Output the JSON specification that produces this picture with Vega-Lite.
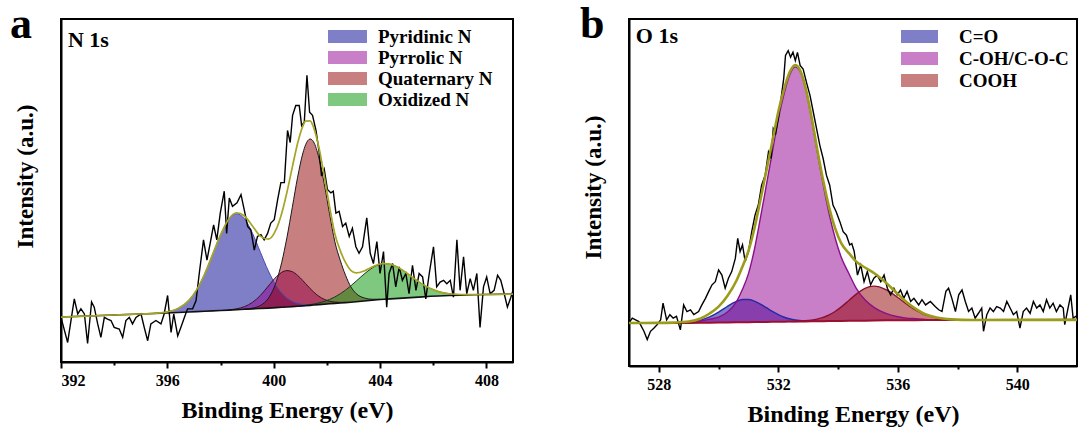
{
  "$schema": "https://vega.github.io/schema/vega-lite/v6.json",
  "background": "white",
  "padding": {"left": 9, "top": 2, "right": 0, "bottom": 0},
  "spacing": 61,
  "resolve": {"scale": {"fill": "independent", "stroke": "independent", "x": "independent", "y": "independent"}, "legend": {"fill": "independent"}},
  "config": {
    "font": "Liberation Serif",
    "view": {"stroke": "black", "strokeWidth": 2},
    "axis": {"domainColor": "black", "domainWidth": 2, "tickColor": "black", "tickWidth": 2, "labelFont": "Liberation Serif", "labelFontSize": 16, "labelFontWeight": "bold", "labelColor": "black", "titleFont": "Liberation Serif", "titleFontWeight": "bold", "titleColor": "black", "grid": false, "labelOverlap": false},
    "axisX": {"labelPadding": 4, "titlePadding": 10, "titleFontSize": 24},
    "axisY": {"ticks": false, "labels": false, "titlePadding": 24, "titleFontSize": 23},
    "legend": {"orient": "none", "labelFont": "Liberation Serif", "labelFontSize": 19, "labelFontWeight": "bold", "labelColor": "black", "symbolStrokeWidth": 0, "rowPadding": 0, "padding": 0, "symbolOpacity": 0.5, "labelLimit": 300},
    "title": {"anchor": "start", "frame": "group", "offset": 0, "baseline": "alphabetic", "font": "Liberation Serif", "fontSize": 44, "fontWeight": "bold", "color": "black", "dy": 32}
  },
  "datasets": {
    "rawA": [
      {"x":392.00,"y":13.0},{"x":392.10,"y":10.1},{"x":392.25,"y":5.7},{"x":392.50,"y":18.4},{"x":392.63,"y":14.0},{"x":392.75,"y":15.5},{"x":392.88,"y":14.0},{"x":393.00,"y":5.4},{"x":393.15,"y":17.5},{"x":393.25,"y":16.0},{"x":393.38,"y":11.1},{"x":393.50,"y":7.2},{"x":393.63,"y":13.0},{"x":393.75,"y":12.5},{"x":393.88,"y":12.1},{"x":394.00,"y":10.1},{"x":394.19,"y":9.6},{"x":394.32,"y":7.2},{"x":394.44,"y":12.1},{"x":394.57,"y":13.0},{"x":394.69,"y":11.1},{"x":394.82,"y":13.0},{"x":395.01,"y":14.0},{"x":395.13,"y":10.1},{"x":395.26,"y":6.2},{"x":395.38,"y":11.1},{"x":395.57,"y":12.1},{"x":395.76,"y":11.1},{"x":395.88,"y":14.0},{"x":396.01,"y":19.4},{"x":396.14,"y":8.6},{"x":396.24,"y":14.0},{"x":396.39,"y":7.6},{"x":396.51,"y":10.1},{"x":396.64,"y":13.0},{"x":396.76,"y":15.5},{"x":396.95,"y":15.5},{"x":397.08,"y":17.9},{"x":397.20,"y":25.8},{"x":397.36,"y":35.6},{"x":397.49,"y":29.7},{"x":397.61,"y":34.6},{"x":397.74,"y":40.0},{"x":397.86,"y":35.6},{"x":397.99,"y":43.4},{"x":398.14,"y":49.8},{"x":398.23,"y":37.5},{"x":398.33,"y":47.8},{"x":398.45,"y":45.4},{"x":398.62,"y":46.4},{"x":398.77,"y":48.8},{"x":398.89,"y":44.4},{"x":399.02,"y":39.5},{"x":399.14,"y":38.5},{"x":399.27,"y":32.6},{"x":399.39,"y":36.6},{"x":399.52,"y":37.1},{"x":399.64,"y":35.6},{"x":399.77,"y":37.5},{"x":399.89,"y":40.5},{"x":400.02,"y":41.5},{"x":400.15,"y":47.4},{"x":400.27,"y":52.3},{"x":400.40,"y":52.3},{"x":400.52,"y":67.5},{"x":400.62,"y":64.0},{"x":400.71,"y":71.9},{"x":400.83,"y":74.8},{"x":400.96,"y":74.8},{"x":401.05,"y":68.9},{"x":401.15,"y":69.9},{"x":401.25,"y":83.6},{"x":401.35,"y":72.8},{"x":401.46,"y":71.9},{"x":401.59,"y":67.5},{"x":401.71,"y":61.1},{"x":401.80,"y":54.2},{"x":401.90,"y":56.2},{"x":402.02,"y":50.3},{"x":402.15,"y":49.3},{"x":402.24,"y":49.8},{"x":402.34,"y":43.4},{"x":402.46,"y":43.9},{"x":402.59,"y":39.5},{"x":402.71,"y":40.5},{"x":402.84,"y":36.6},{"x":402.96,"y":39.0},{"x":403.09,"y":33.6},{"x":403.21,"y":31.7},{"x":403.34,"y":33.6},{"x":403.50,"y":42.0},{"x":403.63,"y":31.7},{"x":403.75,"y":28.7},{"x":403.88,"y":35.1},{"x":404.00,"y":25.8},{"x":404.13,"y":32.2},{"x":404.25,"y":16.0},{"x":404.34,"y":25.8},{"x":404.47,"y":28.7},{"x":404.59,"y":21.9},{"x":404.72,"y":27.7},{"x":404.84,"y":23.8},{"x":404.97,"y":25.8},{"x":405.09,"y":19.9},{"x":405.22,"y":28.2},{"x":405.35,"y":20.9},{"x":405.47,"y":25.8},{"x":405.60,"y":24.8},{"x":405.72,"y":18.4},{"x":405.85,"y":25.8},{"x":406.01,"y":33.6},{"x":406.13,"y":21.9},{"x":406.26,"y":23.3},{"x":406.39,"y":23.8},{"x":406.51,"y":22.8},{"x":406.64,"y":23.8},{"x":406.76,"y":18.9},{"x":406.89,"y":35.6},{"x":407.01,"y":20.9},{"x":407.14,"y":30.7},{"x":407.26,"y":19.9},{"x":407.39,"y":24.3},{"x":407.51,"y":20.9},{"x":407.64,"y":25.8},{"x":407.76,"y":10.1},{"x":407.89,"y":21.9},{"x":408.01,"y":24.8},{"x":408.14,"y":19.9},{"x":408.29,"y":20.9},{"x":408.42,"y":25.3},{"x":408.54,"y":23.8},{"x":408.67,"y":19.9},{"x":408.79,"y":16.0},{"x":408.92,"y":18.9},{"x":409.00,"y":20.9}
    ],
    "fitA": [
      {"x":392,"base":13.1,"env":13.1},{"x":393,"base":13.4,"env":13.4},{"x":394,"base":13.7,"env":13.7},{"x":395,"base":14.0,"env":14.0},{"x":395.5,"base":14.15,"env":14.2},{"x":396,"base":14.3,"env":14.62},{"x":396.4,"base":14.44,"env":15.59},{"x":396.8,"base":14.58,"env":17.88},{"x":397.1,"base":14.69,"env":21.03},{"x":397.4,"base":14.79,"env":25.59},{"x":397.7,"base":14.9,"env":31.3},{"x":398.0,"base":15.0,"env":37.08},{"x":398.3,"base":15.12,"env":41.58},{"x":398.6,"base":15.24,"env":43.52},{"x":398.9,"base":15.36,"env":42.56},{"x":399.2,"base":15.48,"env":39.67},{"x":399.5,"base":15.6,"env":36.7},{"x":399.8,"base":15.72,"env":35.81},{"x":400.1,"base":15.85,"env":38.81},{"x":400.3,"base":15.95,"env":43.31},{"x":400.5,"base":16.05,"env":49.57},{"x":400.7,"base":16.15,"env":56.82},{"x":400.9,"base":16.25,"env":63.79},{"x":401.1,"base":16.36,"env":68.85},{"x":401.2,"base":16.42,"env":70.22},{"x":401.37,"base":16.52,"env":70.32},{"x":401.5,"base":16.6,"env":68.41},{"x":401.7,"base":16.72,"env":62.53},{"x":401.9,"base":16.84,"env":54.23},{"x":402.1,"base":16.96,"env":45.32},{"x":402.3,"base":17.08,"env":37.32},{"x":402.5,"base":17.2,"env":32.55},{"x":402.7,"base":17.32,"env":29.02},{"x":402.9,"base":17.44,"env":26.7},{"x":403.1,"base":17.57,"env":25.96},{"x":403.4,"base":17.78,"env":26.53},{"x":403.7,"base":17.99,"env":27.69},{"x":404.0,"base":18.2,"env":28.58},{"x":404.15,"base":18.28,"env":28.68},{"x":404.4,"base":18.4,"env":28.48},{"x":404.7,"base":18.55,"env":27.49},{"x":405.0,"base":18.7,"env":25.95},{"x":405.3,"base":18.85,"env":24.22},{"x":405.6,"base":19.0,"env":22.63},{"x":405.9,"base":19.15,"env":21.4},{"x":406.2,"base":19.26,"env":20.53},{"x":406.6,"base":19.38,"env":19.9},{"x":407.0,"base":19.5,"env":19.68},{"x":407.5,"base":19.6,"env":19.64},{"x":408,"base":19.7,"env":19.7},{"x":409,"base":19.8,"env":19.8}
    ],
    "compA": [
      {"s":"Pyridinic N","x":395.5,"top":14.2,"base":14.15},{"s":"Pyridinic N","x":396,"top":14.62,"base":14.3},{"s":"Pyridinic N","x":396.4,"top":15.59,"base":14.44},{"s":"Pyridinic N","x":396.8,"top":17.88,"base":14.58},{"s":"Pyridinic N","x":397.1,"top":21.03,"base":14.69},{"s":"Pyridinic N","x":397.4,"top":25.59,"base":14.79},{"s":"Pyridinic N","x":397.7,"top":31.3,"base":14.9},{"s":"Pyridinic N","x":398.0,"top":37.08,"base":15.0},{"s":"Pyridinic N","x":398.3,"top":41.5,"base":15.12},{"s":"Pyridinic N","x":398.6,"top":43.24,"base":15.24},{"s":"Pyridinic N","x":398.9,"top":41.74,"base":15.36},{"s":"Pyridinic N","x":399.2,"top":37.56,"base":15.48},{"s":"Pyridinic N","x":399.5,"top":32.0,"base":15.6},{"s":"Pyridinic N","x":399.8,"top":26.52,"base":15.72},{"s":"Pyridinic N","x":400.1,"top":22.19,"base":15.85},{"s":"Pyridinic N","x":400.3,"top":20.1,"base":15.95},{"s":"Pyridinic N","x":400.5,"top":18.63,"base":16.05},{"s":"Pyridinic N","x":400.7,"top":17.67,"base":16.15},{"s":"Pyridinic N","x":400.9,"top":17.1,"base":16.25},{"s":"Pyridinic N","x":401.1,"top":16.81,"base":16.36},{"s":"Pyridinic N","x":401.37,"top":16.7,"base":16.52},{"s":"Pyridinic N","x":401.7,"top":16.77,"base":16.72},
      {"s":"Pyrrolic N","x":398.3,"top":15.2,"base":15.12},{"s":"Pyrrolic N","x":398.6,"top":15.51,"base":15.24},{"s":"Pyrrolic N","x":398.9,"top":16.14,"base":15.36},{"s":"Pyrrolic N","x":399.2,"top":17.37,"base":15.48},{"s":"Pyrrolic N","x":399.5,"top":19.42,"base":15.6},{"s":"Pyrrolic N","x":399.8,"top":22.15,"base":15.72},{"s":"Pyrrolic N","x":400.1,"top":24.85,"base":15.85},{"s":"Pyrrolic N","x":400.3,"top":26.13,"base":15.95},{"s":"Pyrrolic N","x":400.5,"top":26.65,"base":16.05},{"s":"Pyrrolic N","x":400.7,"top":26.33,"base":16.15},{"s":"Pyrrolic N","x":400.9,"top":25.25,"base":16.25},{"s":"Pyrrolic N","x":401.1,"top":23.7,"base":16.36},{"s":"Pyrrolic N","x":401.2,"top":22.85,"base":16.42},{"s":"Pyrrolic N","x":401.37,"top":21.42,"base":16.52},{"s":"Pyrrolic N","x":401.5,"top":20.42,"base":16.6},{"s":"Pyrrolic N","x":401.7,"top":19.16,"base":16.72},{"s":"Pyrrolic N","x":401.9,"top":18.27,"base":16.84},{"s":"Pyrrolic N","x":402.1,"top":17.74,"base":16.96},{"s":"Pyrrolic N","x":402.3,"top":17.47,"base":17.08},{"s":"Pyrrolic N","x":402.5,"top":17.38,"base":17.2},{"s":"Pyrrolic N","x":402.7,"top":17.39,"base":17.32},
      {"s":"Quaternary N","x":398.9,"top":15.4,"base":15.36},{"s":"Quaternary N","x":399.2,"top":15.7,"base":15.48},{"s":"Quaternary N","x":399.5,"top":16.48,"base":15.6},{"s":"Quaternary N","x":399.8,"top":18.58,"base":15.72},{"s":"Quaternary N","x":400.1,"top":23.47,"base":15.85},{"s":"Quaternary N","x":400.3,"top":28.98,"base":15.95},{"s":"Quaternary N","x":400.5,"top":36.39,"base":16.05},{"s":"Quaternary N","x":400.7,"top":45.12,"base":16.15},{"s":"Quaternary N","x":400.9,"top":53.89,"base":16.25},{"s":"Quaternary N","x":401.1,"top":60.96,"base":16.36},{"s":"Quaternary N","x":401.2,"top":63.34,"base":16.42},{"s":"Quaternary N","x":401.37,"top":65.02,"base":16.52},{"s":"Quaternary N","x":401.5,"top":64.17,"base":16.6},{"s":"Quaternary N","x":401.7,"top":59.52,"base":16.72},{"s":"Quaternary N","x":401.9,"top":51.97,"base":16.84},{"s":"Quaternary N","x":402.1,"top":43.27,"base":16.96},{"s":"Quaternary N","x":402.3,"top":35.05,"base":17.08},{"s":"Quaternary N","x":402.5,"top":29.7,"base":17.2},{"s":"Quaternary N","x":402.7,"top":25.32,"base":17.32},{"s":"Quaternary N","x":402.9,"top":21.94,"base":17.44},{"s":"Quaternary N","x":403.1,"top":19.97,"base":17.57},{"s":"Quaternary N","x":403.4,"top":18.68,"base":17.78},{"s":"Quaternary N","x":403.7,"top":18.29,"base":17.99},{"s":"Quaternary N","x":404.0,"top":18.3,"base":18.2},
      {"s":"Oxidized N","x":401.1,"top":16.46,"base":16.36},{"s":"Oxidized N","x":401.5,"top":16.91,"base":16.6},{"s":"Oxidized N","x":401.9,"top":17.67,"base":16.84},{"s":"Oxidized N","x":402.3,"top":18.96,"base":17.08},{"s":"Oxidized N","x":402.7,"top":20.95,"base":17.32},{"s":"Oxidized N","x":403.1,"top":23.56,"base":17.57},{"s":"Oxidized N","x":403.4,"top":25.63,"base":17.78},{"s":"Oxidized N","x":403.7,"top":27.39,"base":17.99},{"s":"Oxidized N","x":404.0,"top":28.48,"base":18.2},{"s":"Oxidized N","x":404.15,"top":28.68,"base":18.28},{"s":"Oxidized N","x":404.4,"top":28.48,"base":18.4},{"s":"Oxidized N","x":404.7,"top":27.49,"base":18.55},{"s":"Oxidized N","x":405.0,"top":25.95,"base":18.7},{"s":"Oxidized N","x":405.3,"top":24.22,"base":18.85},{"s":"Oxidized N","x":405.6,"top":22.63,"base":19.0},{"s":"Oxidized N","x":405.9,"top":21.4,"base":19.15},{"s":"Oxidized N","x":406.2,"top":20.53,"base":19.26},{"s":"Oxidized N","x":406.6,"top":19.9,"base":19.38},{"s":"Oxidized N","x":407.0,"top":19.68,"base":19.5},{"s":"Oxidized N","x":407.5,"top":19.64,"base":19.6}
    ],
    "rawB": [
      {"x":527.00,"y":12.4},{"x":527.11,"y":13.8},{"x":527.22,"y":13.3},{"x":527.33,"y":12.8},{"x":527.50,"y":10.0},{"x":527.61,"y":7.6},{"x":527.72,"y":10.0},{"x":527.83,"y":10.9},{"x":527.94,"y":11.9},{"x":528.06,"y":13.3},{"x":528.14,"y":18.1},{"x":528.26,"y":13.3},{"x":528.37,"y":14.8},{"x":528.48,"y":13.8},{"x":528.59,"y":14.3},{"x":528.72,"y":10.4},{"x":528.83,"y":17.6},{"x":528.94,"y":15.7},{"x":529.06,"y":16.2},{"x":529.17,"y":14.8},{"x":529.33,"y":15.7},{"x":529.44,"y":17.6},{"x":529.56,"y":19.5},{"x":529.67,"y":21.5},{"x":529.78,"y":23.4},{"x":529.89,"y":24.3},{"x":530.00,"y":27.7},{"x":530.11,"y":26.2},{"x":530.22,"y":22.4},{"x":530.33,"y":25.3},{"x":530.44,"y":27.2},{"x":530.56,"y":31.0},{"x":530.64,"y":36.8},{"x":530.72,"y":33.0},{"x":530.80,"y":34.9},{"x":530.89,"y":30.1},{"x":531.00,"y":33.0},{"x":531.11,"y":38.7},{"x":531.22,"y":43.5},{"x":531.33,"y":46.4},{"x":531.44,"y":52.1},{"x":531.56,"y":55.0},{"x":531.67,"y":61.7},{"x":531.76,"y":59.8},{"x":531.83,"y":68.4},{"x":531.91,"y":67.0},{"x":532.00,"y":71.3},{"x":532.09,"y":77.0},{"x":532.18,"y":82.8},{"x":532.24,"y":89.5},{"x":532.33,"y":90.9},{"x":532.41,"y":89.0},{"x":532.49,"y":90.4},{"x":532.57,"y":88.0},{"x":532.64,"y":90.4},{"x":532.73,"y":86.6},{"x":532.83,"y":85.6},{"x":532.94,"y":81.8},{"x":533.06,"y":78.0},{"x":533.17,"y":73.2},{"x":533.28,"y":68.4},{"x":533.39,"y":63.6},{"x":533.50,"y":59.8},{"x":533.61,"y":55.0},{"x":533.72,"y":52.1},{"x":533.83,"y":46.4},{"x":533.94,"y":44.4},{"x":534.06,"y":41.6},{"x":534.17,"y":38.7},{"x":534.28,"y":37.7},{"x":534.39,"y":34.9},{"x":534.46,"y":35.3},{"x":534.54,"y":33.0},{"x":534.65,"y":26.2},{"x":534.76,"y":29.1},{"x":534.87,"y":24.3},{"x":534.98,"y":27.2},{"x":535.09,"y":23.4},{"x":535.20,"y":25.3},{"x":535.31,"y":26.2},{"x":535.43,"y":24.3},{"x":535.54,"y":26.2},{"x":535.65,"y":22.4},{"x":535.76,"y":20.5},{"x":535.87,"y":22.4},{"x":535.98,"y":20.5},{"x":536.09,"y":21.9},{"x":536.20,"y":19.5},{"x":536.31,"y":21.5},{"x":536.43,"y":18.6},{"x":536.54,"y":19.5},{"x":536.70,"y":17.6},{"x":536.81,"y":19.1},{"x":536.93,"y":17.6},{"x":537.09,"y":18.6},{"x":537.26,"y":17.1},{"x":537.37,"y":16.2},{"x":537.48,"y":15.7},{"x":537.61,"y":21.5},{"x":537.70,"y":22.4},{"x":537.81,"y":19.5},{"x":537.93,"y":15.7},{"x":538.04,"y":20.5},{"x":538.15,"y":21.9},{"x":538.26,"y":18.6},{"x":538.37,"y":15.7},{"x":538.48,"y":16.7},{"x":538.59,"y":13.8},{"x":538.70,"y":15.2},{"x":538.81,"y":16.7},{"x":538.87,"y":10.0},{"x":538.98,"y":14.8},{"x":539.09,"y":16.7},{"x":539.20,"y":15.7},{"x":539.31,"y":17.1},{"x":539.43,"y":16.7},{"x":539.54,"y":15.7},{"x":539.65,"y":18.6},{"x":539.76,"y":16.7},{"x":539.87,"y":14.8},{"x":539.98,"y":15.7},{"x":540.09,"y":10.9},{"x":540.20,"y":15.7},{"x":540.31,"y":16.7},{"x":540.43,"y":15.2},{"x":540.54,"y":18.6},{"x":540.65,"y":16.7},{"x":540.76,"y":17.6},{"x":540.87,"y":15.7},{"x":540.98,"y":19.1},{"x":541.09,"y":16.7},{"x":541.20,"y":18.1},{"x":541.31,"y":15.7},{"x":541.43,"y":17.6},{"x":541.54,"y":16.7},{"x":541.59,"y":11.9},{"x":541.70,"y":16.7},{"x":541.79,"y":20.5},{"x":541.87,"y":13.8},{"x":542.00,"y":14.5}
    ],
    "fitB": [
      {"x":527,"base":12.4,"env":12.4},{"x":528,"base":12.4,"env":12.42},{"x":528.5,"base":12.4,"env":12.51},{"x":529.0,"base":12.4,"env":12.8},{"x":529.4,"base":12.45,"env":13.7},{"x":529.7,"base":12.48,"env":15.13},{"x":530.0,"base":12.51,"env":17.11},{"x":530.3,"base":12.55,"env":20.22},{"x":530.6,"base":12.58,"env":24.63},{"x":530.8,"base":12.61,"env":28.65},{"x":531.0,"base":12.63,"env":33.17},{"x":531.2,"base":12.65,"env":39.7},{"x":531.4,"base":12.67,"env":47.86},{"x":531.6,"base":12.69,"env":56.3},{"x":531.8,"base":12.72,"env":64.72},{"x":532.0,"base":12.74,"env":73.29},{"x":532.2,"base":12.76,"env":80.05},{"x":532.4,"base":12.79,"env":85.04},{"x":532.56,"base":12.81,"env":86.72},{"x":532.7,"base":12.82,"env":85.69},{"x":532.9,"base":12.85,"env":80.66},{"x":533.1,"base":12.87,"env":72.27},{"x":533.3,"base":12.89,"env":62.54},{"x":533.5,"base":12.91,"env":53.5},{"x":533.7,"base":12.94,"env":45.73},{"x":533.9,"base":12.96,"env":39.71},{"x":534.1,"base":12.98,"env":35.46},{"x":534.37,"base":13.01,"env":32.44},{"x":534.6,"base":13.04,"env":30.15},{"x":534.9,"base":13.07,"env":28.38},{"x":535.2,"base":13.11,"env":26.81},{"x":535.6,"base":13.15,"env":24.03},{"x":536.0,"base":13.2,"env":20.74},{"x":536.3,"base":13.21,"env":18.38},{"x":536.6,"base":13.22,"env":16.47},{"x":536.9,"base":13.23,"env":15.02},{"x":537.3,"base":13.24,"env":13.96},{"x":537.8,"base":13.25,"env":13.44},{"x":538.5,"base":13.26,"env":13.26},{"x":540,"base":13.28,"env":13.28},{"x":542,"base":13.3,"env":13.3}
    ],
    "compB": [
      {"s":"C=O","x":528.5,"top":12.43,"base":12.4},{"s":"C=O","x":529.0,"top":12.6,"base":12.4},{"s":"C=O","x":529.4,"top":13.2,"base":12.45},{"s":"C=O","x":529.7,"top":14.13,"base":12.48},{"s":"C=O","x":530.0,"top":15.51,"base":12.51},{"s":"C=O","x":530.3,"top":17.22,"base":12.55},{"s":"C=O","x":530.6,"top":18.63,"base":12.58},{"s":"C=O","x":530.8,"top":19.15,"base":12.61},{"s":"C=O","x":531.0,"top":19.17,"base":12.63},{"s":"C=O","x":531.2,"top":18.7,"base":12.65},{"s":"C=O","x":531.4,"top":17.86,"base":12.67},{"s":"C=O","x":531.6,"top":16.8,"base":12.69},{"s":"C=O","x":531.8,"top":15.72,"base":12.72},{"s":"C=O","x":532.0,"top":14.79,"base":12.74},{"s":"C=O","x":532.2,"top":14.05,"base":12.76},{"s":"C=O","x":532.4,"top":13.54,"base":12.79},{"s":"C=O","x":532.56,"top":13.27,"base":12.81},{"s":"C=O","x":532.7,"top":13.11,"base":12.82},{"s":"C=O","x":532.9,"top":12.99,"base":12.85},{"s":"C=O","x":533.1,"top":12.93,"base":12.87},{"s":"C=O","x":533.3,"top":12.91,"base":12.89},
      {"s":"C-OH/C-O-C","x":528.5,"top":12.48,"base":12.4},{"s":"C-OH/C-O-C","x":529.0,"top":12.6,"base":12.4},{"s":"C-OH/C-O-C","x":529.4,"top":12.95,"base":12.45},{"s":"C-OH/C-O-C","x":529.7,"top":13.48,"base":12.48},{"s":"C-OH/C-O-C","x":530.0,"top":14.11,"base":12.51},{"s":"C-OH/C-O-C","x":530.3,"top":15.55,"base":12.55},{"s":"C-OH/C-O-C","x":530.6,"top":18.58,"base":12.58},{"s":"C-OH/C-O-C","x":530.8,"top":22.11,"base":12.61},{"s":"C-OH/C-O-C","x":531.0,"top":26.63,"base":12.63},{"s":"C-OH/C-O-C","x":531.2,"top":33.65,"base":12.65},{"s":"C-OH/C-O-C","x":531.4,"top":42.67,"base":12.67},{"s":"C-OH/C-O-C","x":531.6,"top":52.19,"base":12.69},{"s":"C-OH/C-O-C","x":531.8,"top":61.72,"base":12.72},{"s":"C-OH/C-O-C","x":532.0,"top":71.24,"base":12.74},{"s":"C-OH/C-O-C","x":532.2,"top":78.76,"base":12.76},{"s":"C-OH/C-O-C","x":532.4,"top":84.29,"base":12.79},{"s":"C-OH/C-O-C","x":532.56,"top":86.21,"base":12.81},{"s":"C-OH/C-O-C","x":532.7,"top":85.32,"base":12.82},{"s":"C-OH/C-O-C","x":532.9,"top":80.35,"base":12.85},{"s":"C-OH/C-O-C","x":533.1,"top":71.87,"base":12.87},{"s":"C-OH/C-O-C","x":533.3,"top":61.89,"base":12.89},{"s":"C-OH/C-O-C","x":533.5,"top":52.41,"base":12.91},{"s":"C-OH/C-O-C","x":533.7,"top":43.94,"base":12.94},{"s":"C-OH/C-O-C","x":533.9,"top":36.96,"base":12.96},{"s":"C-OH/C-O-C","x":534.1,"top":31.48,"base":12.98},{"s":"C-OH/C-O-C","x":534.37,"top":26.51,"base":13.01},{"s":"C-OH/C-O-C","x":534.6,"top":22.54,"base":13.04},{"s":"C-OH/C-O-C","x":534.9,"top":19.07,"base":13.07},{"s":"C-OH/C-O-C","x":535.2,"top":16.91,"base":13.11},{"s":"C-OH/C-O-C","x":535.6,"top":15.15,"base":13.15},{"s":"C-OH/C-O-C","x":536.0,"top":14.2,"base":13.2},{"s":"C-OH/C-O-C","x":536.3,"top":13.81,"base":13.21},{"s":"C-OH/C-O-C","x":536.6,"top":13.62,"base":13.22},{"s":"C-OH/C-O-C","x":536.9,"top":13.43,"base":13.23},{"s":"C-OH/C-O-C","x":537.3,"top":13.34,"base":13.24},{"s":"C-OH/C-O-C","x":537.8,"top":13.3,"base":13.25},{"s":"C-OH/C-O-C","x":538.5,"top":13.26,"base":13.26},
      {"s":"COOH","x":532.4,"top":12.79,"base":12.79},{"s":"COOH","x":532.7,"top":12.9,"base":12.82},{"s":"COOH","x":532.9,"top":13.02,"base":12.85},{"s":"COOH","x":533.1,"top":13.21,"base":12.87},{"s":"COOH","x":533.3,"top":13.52,"base":12.89},{"s":"COOH","x":533.5,"top":14.0,"base":12.91},{"s":"COOH","x":533.7,"top":14.73,"base":12.94},{"s":"COOH","x":533.9,"top":15.71,"base":12.96},{"s":"COOH","x":534.1,"top":16.96,"base":12.98},{"s":"COOH","x":534.37,"top":18.94,"base":13.01},{"s":"COOH","x":534.6,"top":20.65,"base":13.04},{"s":"COOH","x":534.9,"top":22.38,"base":13.07},{"s":"COOH","x":535.2,"top":23.01,"base":13.11},{"s":"COOH","x":535.6,"top":22.03,"base":13.15},{"s":"COOH","x":536.0,"top":19.74,"base":13.2},{"s":"COOH","x":536.3,"top":17.78,"base":13.21},{"s":"COOH","x":536.6,"top":16.07,"base":13.22},{"s":"COOH","x":536.9,"top":14.82,"base":13.23},{"s":"COOH","x":537.3,"top":13.86,"base":13.24},{"s":"COOH","x":537.8,"top":13.39,"base":13.25},{"s":"COOH","x":538.5,"top":13.27,"base":13.26}
    ],
    "labelA": [{"label": "N 1s", "x": 392.26, "y": 91.8}],
    "labelB": [{"label": "O 1s", "x": 527.23, "y": 93.1}]
  },
  "hconcat": [
    {
      "width": 452,
      "height": 343,
      "title": {"text": "a", "dx": -51},
      "encoding": {
        "x": {"field": "x", "type": "quantitative", "scale": {"domain": [392, 409], "nice": false, "zero": false},
          "axis": {"title": "Binding Energy (eV)", "values": [392,394,396,398,400,402,404,406,408], "labelExpr": "datum.value % 4 == 0 ? datum.label : ''", "tickSize": {"condition": {"test": "datum.value % 4 != 0", "value": 3}, "value": 6}}}
      },
      "layer": [
        {
          "data": {"name": "compA"},
          "mark": {"type": "area", "opacity": 0.5, "interpolate": "monotone"},
          "encoding": {
            "y": {"field": "top", "type": "quantitative", "scale": {"domain": [0, 100], "nice": false, "zero": false}, "axis": {"title": "Intensity (a.u.)", "titleY": 157}},
            "y2": {"field": "base"},
            "fill": {"field": "s", "type": "nominal", "sort": null,
              "scale": {"domain": ["Pyridinic N", "Pyrrolic N", "Quaternary N", "Oxidized N"], "range": ["#000091", "#910091", "#910000", "#009100"]},
              "legend": {"title": null, "legendX": 276, "legendY": 7, "symbolType": "M-1.857,-0.619L1.857,-0.619L1.857,0.619L-1.857,0.619Z", "symbolSize": 441, "labelOffset": 20}}
          }
        },
        {
          "data": {"name": "compA"},
          "mark": {"type": "line", "strokeWidth": 1, "interpolate": "monotone"},
          "encoding": {
            "y": {"field": "top", "type": "quantitative", "scale": {"domain": [0, 100], "nice": false, "zero": false}, "axis": {"title": "Intensity (a.u.)", "titleY": 157}},
            "stroke": {"field": "s", "type": "nominal", "sort": null,
              "scale": {"domain": ["Pyridinic N", "Pyrrolic N", "Quaternary N", "Oxidized N"], "range": ["#4a4ab4", "#3a1022", "#1a1a1a", "#1e3a1e"]},
              "legend": null}
          }
        },
        {
          "data": {"name": "fitA"},
          "mark": {"type": "line", "color": "#111111", "strokeWidth": 1.6},
          "encoding": {
            "y": {"field": "base", "type": "quantitative", "scale": {"domain": [0, 100], "nice": false, "zero": false}, "axis": {"title": "Intensity (a.u.)", "titleY": 157}}
          }
        },
        {
          "data": {"name": "rawA"},
          "mark": {"type": "line", "color": "black", "strokeWidth": 1.4},
          "encoding": {
            "y": {"field": "y", "type": "quantitative", "scale": {"domain": [0, 100], "nice": false, "zero": false}, "axis": {"title": "Intensity (a.u.)", "titleY": 157}}
          }
        },
        {
          "data": {"name": "fitA"},
          "mark": {"type": "line", "color": "#a5a526", "strokeWidth": 1.7, "interpolate": "monotone"},
          "encoding": {
            "y": {"field": "env", "type": "quantitative", "scale": {"domain": [0, 100], "nice": false, "zero": false}, "axis": {"title": "Intensity (a.u.)", "titleY": 157}}
          }
        },
        {
          "data": {"name": "labelA"},
          "mark": {"type": "text", "align": "left", "baseline": "alphabetic", "font": "Liberation Serif", "fontSize": 22, "fontWeight": "bold", "fill": "black"},
          "encoding": {
            "y": {"field": "y", "type": "quantitative", "scale": {"domain": [0, 100], "nice": false, "zero": false}, "axis": {"title": "Intensity (a.u.)", "titleY": 157}},
            "text": {"field": "label", "type": "nominal"}
          }
        }
      ]
    },
    {
      "width": 448,
      "height": 347,
      "title": {"text": "b", "dx": -49},
      "encoding": {
        "x": {"field": "x", "type": "quantitative", "scale": {"domain": [527, 542], "nice": false, "zero": false},
          "axis": {"title": "Binding Energy (eV)", "values": [528,530,532,534,536,538,540], "labelExpr": "datum.value % 4 == 0 ? datum.label : ''", "tickSize": {"condition": {"test": "datum.value % 4 != 0", "value": 3}, "value": 6}}}
      },
      "layer": [
        {
          "data": {"name": "compB"},
          "mark": {"type": "area", "opacity": 0.5, "interpolate": "monotone"},
          "encoding": {
            "y": {"field": "top", "type": "quantitative", "scale": {"domain": [0, 100], "nice": false, "zero": false}, "axis": {"title": "Intensity (a.u.)", "titleY": 168}},
            "y2": {"field": "base"},
            "fill": {"field": "s", "type": "nominal", "sort": null,
              "scale": {"domain": ["C=O", "C-OH/C-O-C", "COOH"], "range": ["#000091", "#910091", "#910000"]},
              "legend": {"title": null, "legendX": 279, "legendY": 6, "symbolType": "M-1.609,-0.565L1.609,-0.565L1.609,0.565L-1.609,0.565Z", "symbolSize": 529, "labelOffset": 28}}
          }
        },
        {
          "data": {"name": "compB"},
          "mark": {"type": "line", "strokeWidth": 1.4, "interpolate": "monotone"},
          "encoding": {
            "y": {"field": "top", "type": "quantitative", "scale": {"domain": [0, 100], "nice": false, "zero": false}, "axis": {"title": "Intensity (a.u.)", "titleY": 168}},
            "stroke": {"field": "s", "type": "nominal", "sort": null,
              "scale": {"domain": ["C=O", "C-OH/C-O-C", "COOH"], "range": ["#2828a8", "#8a108a", "#8a1030"]},
              "legend": null}
          }
        },
        {
          "data": {"name": "fitB"},
          "mark": {"type": "line", "color": "#9a1030", "strokeWidth": 2},
          "encoding": {
            "y": {"field": "base", "type": "quantitative", "scale": {"domain": [0, 100], "nice": false, "zero": false}, "axis": {"title": "Intensity (a.u.)", "titleY": 168}}
          }
        },
        {
          "data": {"name": "rawB"},
          "mark": {"type": "line", "color": "black", "strokeWidth": 1.4},
          "encoding": {
            "y": {"field": "y", "type": "quantitative", "scale": {"domain": [0, 100], "nice": false, "zero": false}, "axis": {"title": "Intensity (a.u.)", "titleY": 168}}
          }
        },
        {
          "data": {"name": "fitB"},
          "mark": {"type": "line", "color": "#9c9c1c", "strokeWidth": 2.6, "interpolate": "monotone"},
          "encoding": {
            "y": {"field": "env", "type": "quantitative", "scale": {"domain": [0, 100], "nice": false, "zero": false}, "axis": {"title": "Intensity (a.u.)", "titleY": 168}}
          }
        },
        {
          "data": {"name": "labelB"},
          "mark": {"type": "text", "align": "left", "baseline": "alphabetic", "font": "Liberation Serif", "fontSize": 22, "fontWeight": "bold", "fill": "black"},
          "encoding": {
            "y": {"field": "y", "type": "quantitative", "scale": {"domain": [0, 100], "nice": false, "zero": false}, "axis": {"title": "Intensity (a.u.)", "titleY": 168}},
            "text": {"field": "label", "type": "nominal"}
          }
        }
      ]
    }
  ]
}
